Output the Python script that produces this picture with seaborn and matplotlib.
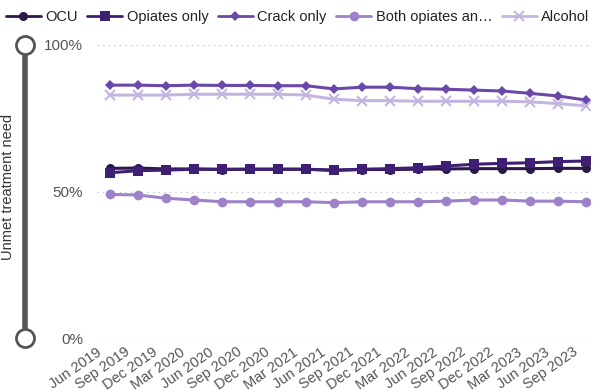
import matplotlib
matplotlib.use("Agg")
import matplotlib.pyplot as plt
import seaborn as sns
import pandas as pd
from matplotlib.lines import Line2D

quarters = ["Jun 2019", "Sep 2019", "Dec 2019", "Mar 2020", "Jun 2020", "Sep 2020",
            "Dec 2020", "Mar 2021", "Jun 2021", "Sep 2021", "Dec 2021", "Mar 2022",
            "Jun 2022", "Sep 2022", "Dec 2022", "Mar 2023", "Jun 2023", "Sep 2023"]

ocu = [57.9, 58.0, 57.7, 57.7, 57.5, 57.6, 57.6, 57.6, 57.2, 57.5, 57.5, 57.6,
       57.7, 57.8, 57.8, 57.8, 57.9, 57.9]
opiates_only = [56.4, 57.1, 57.3, 57.6, 57.6, 57.6, 57.6, 57.6, 57.3, 57.6, 57.8, 58.1,
                58.7, 59.3, 59.6, 59.8, 60.2, 60.4]
crack_only = [86.3, 86.3, 86.1, 86.3, 86.2, 86.2, 86.1, 86.1, 85.0, 85.6, 85.6, 85.1,
              84.9, 84.6, 84.3, 83.5, 82.6, 81.2]
both = [49.0, 48.8, 47.7, 47.1, 46.5, 46.5, 46.5, 46.5, 46.2, 46.5, 46.5, 46.5,
        46.7, 47.1, 47.1, 46.7, 46.7, 46.5]
alcohol = [82.9, 82.9, 82.9, 83.2, 83.2, 83.2, 83.2, 82.9, 81.5, 81.0, 81.0, 80.8,
           80.8, 80.8, 80.8, 80.6, 80.0, 79.2]

series_names = ["OCU", "Opiates only", "Crack only", "Both opiates an\u2026", "Alcohol"]
series_vals = [ocu, opiates_only, crack_only, both, alcohol]
colors = ["#2b1748", "#3f1f73", "#6a47a8", "#9d82c9", "#c4b5e0"]
markers = ["o", "s", "D", "o", "x"]
msizes = [6.5, 6.5, 5, 7, 6.5]

sns.set_theme(style="white")
plt.rcParams["font.family"] = ["Liberation Sans", "DejaVu Sans"]

fig = plt.figure(figsize=(5.95, 3.92), dpi=100)
ax = fig.add_axes([97 / 595, 1 - 338 / 392, 493 / 595, 293 / 392])

for name, vals, c, m, ms in zip(series_names, series_vals, colors, markers, msizes):
    df = pd.DataFrame({"x": range(len(quarters)), "y": vals})
    sns.lineplot(data=df, x="x", y="y", ax=ax, color=c, marker=m, markersize=ms,
                 linewidth=2.2, markeredgewidth=1.5 if m == "x" else 0,
                 markeredgecolor=c, label=name, legend=False)

ax.set_ylim(0, 100)
ax.set_xlim(-0.46, 17.14)
ax.set_yticks([0, 50, 100])
ax.set_yticklabels(["0%", "50%", "100%"], fontsize=11, color="#555555")
ax.set_xticks(range(len(quarters)))
ax.set_xticklabels([])
for i, q in enumerate(quarters):
    ax.annotate(q, xy=(i, 0), xycoords=("data", "axes fraction"),
                xytext=(-10, -5), textcoords="offset points",
                rotation=35, rotation_mode="anchor", ha="right", va="top",
                fontsize=10.5, color="#555555", annotation_clip=False)
ax.tick_params(axis="x", length=0)
ax.tick_params(axis="y", length=0, pad=10)
for v in [0, 50, 100]:
    ax.axhline(v, color="#c8c8c8", linestyle=(0, (1, 3)), linewidth=1, zorder=0)
for s in ax.spines.values():
    s.set_visible(False)
ax.set_xlabel("")
ax.set_ylabel("")

# slider-like y-axis decoration
y_top = 1 - 45 / 392
y_bot = 1 - 338 / 392
xs = 25 / 595
fig.add_artist(Line2D([xs, xs], [y_bot, y_top], transform=fig.transFigure,
                      color="#555555", linewidth=4, solid_capstyle="butt"))
for yy in (y_top, y_bot):
    fig.add_artist(Line2D([xs], [yy], transform=fig.transFigure, marker="o",
                          markersize=13, markerfacecolor="white",
                          markeredgecolor="#555555", markeredgewidth=2))
fig.text(8 / 595, 1 - 187 / 392, "Unmet treatment need", rotation=90,
         ha="center", va="center", fontsize=10.5, color="#333333")

handles = [Line2D([0], [0], color=c, marker=m, markersize=ms, linewidth=2,
                  markeredgewidth=1.5 if m == "x" else 0, markeredgecolor=c)
           for c, m, ms in zip(colors, markers, msizes)]
fig.legend(handles, series_names, loc="upper left", bbox_to_anchor=(-0.012, 1.007),
           ncol=5, frameon=False, fontsize=10.5, handlelength=2.4, handletextpad=0.3,
           columnspacing=0.65, labelcolor="#222222")

fig.savefig("out.png", dpi=100)
